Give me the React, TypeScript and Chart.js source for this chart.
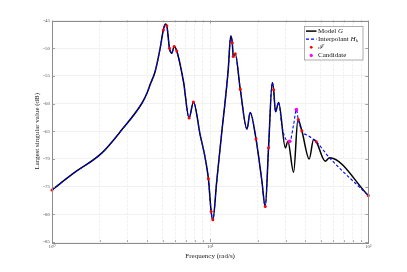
import React, { useEffect, useRef } from "react";
import { Chart, registerables } from "chart.js";

Chart.register(...registerables);

// Model G (black)
const freqG = [1.0, 1.35, 2.07, 2.77, 3.71, 3.99, 4.17, 4.49, 4.83, 5.06, 5.21, 5.32, 5.53, 5.72, 5.92, 6.15, 6.78, 7.36, 7.84, 8.64, 9.3, 9.75, 10.15, 10.4, 11.0, 11.86, 12.4, 13.0, 13.5, 13.8, 14.0, 14.4, 15.5, 17.1, 17.9, 19.5, 21.2, 22.3, 23.4, 24.7, 25.2, 25.9, 27.1, 29.9, 31.0, 33.7, 35.9, 38.0, 42.3, 45.1, 46.9, 53.4, 56.9, 100];
const magG = [-75.6, -72.7, -68.9, -64.7, -59.9, -58.1, -56.6, -54.2, -50.0, -46.7, -45.65, -45.95, -50.0, -50.9, -49.7, -50.5, -56.0, -62.6, -59.7, -65.6, -69.8, -73.6, -79.5, -81.0, -74.1, -65.0, -60.0, -54.0, -47.8, -49.0, -51.5, -51.0, -57.4, -64.6, -61.6, -66.4, -73.8, -78.6, -68.0, -56.2, -57.5, -61.5, -59.8, -68.0, -66.8, -72.4, -62.9, -64.9, -70.0, -66.5, -66.9, -70.4, -69.8, -76.6];

// Interpolant H_k (blue dashed)
const freqH = [1.0, 1.35, 2.07, 2.77, 3.71, 3.99, 4.17, 4.49, 4.83, 5.06, 5.21, 5.32, 5.53, 5.72, 5.92, 6.15, 6.78, 7.36, 7.84, 8.64, 9.3, 9.75, 10.15, 10.4, 11.0, 11.86, 12.4, 13.0, 13.5, 13.8, 14.0, 14.4, 15.5, 17.1, 17.9, 19.5, 21.2, 22.3, 23.4, 24.7, 25.2, 25.9, 27.1, 28.4, 29.9, 31.9, 33.7, 35.1, 36.1, 38.0, 42.3, 46.9, 56.9, 100];
const magH = [-75.6, -72.7, -68.9, -64.7, -59.9, -58.1, -56.6, -54.2, -50.0, -46.7, -45.65, -45.95, -50.0, -50.9, -49.7, -50.5, -56.0, -62.6, -59.7, -65.6, -69.8, -73.6, -79.5, -81.0, -74.1, -65.0, -60.0, -54.0, -47.8, -49.0, -51.5, -51.0, -57.4, -64.6, -61.6, -66.4, -73.8, -78.6, -68.0, -56.2, -57.5, -61.5, -59.8, -64.0, -66.3, -66.8, -63.8, -61.1, -62.9, -64.9, -65.9, -66.9, -69.8, -76.6];

// Support points I (red)
const freqI = [1.0, 5.06, 5.32, 5.53, 5.92, 6.15, 7.36, 7.84, 9.75, 10.15, 10.4, 13.8, 14.0, 14.4, 15.5, 19.5, 22.3, 23.4, 25.2, 31.4, 36.1, 38.0, 46.9, 100];
const magI = [-75.6, -46.7, -45.95, -50.0, -49.7, -50.5, -62.6, -59.7, -73.6, -79.5, -81.0, -49.0, -51.5, -51.0, -57.4, -66.4, -78.6, -68.0, -57.5, -66.9, -62.9, -64.9, -66.9, -76.6];

// Candidate points (magenta)
const freqC = [31.9, 35.1];
const magC = [-66.8, -61.1];

const xTickValues = [1, 2, 3, 4, 5, 6, 7, 8, 9, 10, 20, 30, 40, 50, 60, 70, 80, 90, 100];
const xMajorTicks = [1, 10, 100];
const xTickLabels: Record<number, string> = { 1: "10\u2070", 10: "10\u00b9", 100: "10\u00b2" };
const yMin = -85;
const yMax = -45;
const yStep = 5;

const SERIF = '"Liberation Serif", "DejaVu Serif", serif';

const boxPlugin = {
  id: "boxAndLegend",
  afterDraw(chart: any) {
    const { ctx, chartArea, scales } = chart;
    const { left, right, top, bottom } = chartArea;
    ctx.save();
    // ticks
    ctx.strokeStyle = "#8c8c8c";
    ctx.lineWidth = 0.8;
    ctx.beginPath();
    for (let v = yMin; v <= yMax; v += yStep) {
      const py = Math.round(scales.y.getPixelForValue(v)) + 0.5;
      ctx.moveTo(left, py); ctx.lineTo(left + 3, py);
      ctx.moveTo(right, py); ctx.lineTo(right - 3, py);
    }
    xTickValues.forEach((v) => {
      const px = Math.round(scales.x.getPixelForValue(v)) + 0.5;
      const len = xMajorTicks.includes(v) ? 3 : 1.8;
      ctx.moveTo(px, bottom); ctx.lineTo(px, bottom - len);
      ctx.moveTo(px, top); ctx.lineTo(px, top + len);
    });
    ctx.stroke();
    // box
    ctx.lineWidth = 1;
    ctx.strokeStyle = "#8c8c8c";
    ctx.strokeRect(Math.round(left) + 0.5, Math.round(top) + 0.5, Math.round(right - left), Math.round(bottom - top));

    // legend
    const bw = 58.5, bh = 33.5;
    const bx = Math.round(right - 5.5 - bw) + 0.5;
    const by = Math.round(top + 5) + 0.5;
    ctx.fillStyle = "#ffffff";
    ctx.fillRect(bx, by, bw, bh);
    ctx.strokeStyle = "#9a9a9a";
    ctx.lineWidth = 0.8;
    ctx.strokeRect(bx, by, bw, bh);
    const rowY = (i: number) => by + 4.6 + i * 8.1;
    const sx0 = bx + 1.5, sx1 = bx + 12, tx = bx + 13.5;
    // row 0 black line
    ctx.strokeStyle = "#000";
    ctx.lineWidth = 1.5;
    ctx.beginPath(); ctx.moveTo(sx0, rowY(0)); ctx.lineTo(sx1, rowY(0)); ctx.stroke();
    // row 1 blue dashed
    ctx.strokeStyle = "#0000ff";
    ctx.lineWidth = 1.2;
    ctx.setLineDash([3, 2]);
    ctx.beginPath(); ctx.moveTo(sx0, rowY(1)); ctx.lineTo(sx1, rowY(1)); ctx.stroke();
    ctx.setLineDash([]);
    // row 2 red dot
    const cx = (sx0 + sx1) / 2;
    ctx.fillStyle = "#ff0000";
    ctx.beginPath(); ctx.arc(cx, rowY(2), 1.4, 0, Math.PI * 2); ctx.fill();
    // row 3 magenta dot
    ctx.fillStyle = "#ff00ff";
    ctx.beginPath(); ctx.arc(cx, rowY(3), 1.6, 0, Math.PI * 2); ctx.fill();

    ctx.fillStyle = "#111";
    ctx.textBaseline = "middle";
    ctx.textAlign = "left";
    const f = `7px ${SERIF}`;
    const fi = `italic 7px ${SERIF}`;
    const put = (txt: string, font: string, x: number, y: number) => {
      ctx.font = font; ctx.fillText(txt, x, y); return x + ctx.measureText(txt).width;
    };
    let x = put("Model ", f, tx, rowY(0));
    put("G", fi, x, rowY(0));
    x = put("Interpolant ", f, tx, rowY(1));
    x = put("H", fi, x, rowY(1));
    put("k", `italic 5px ${SERIF}`, x + 0.3, rowY(1) + 1.8);
    put("\u2110", fi, tx, rowY(2));
    put("Candidate", f, tx, rowY(3));
    ctx.restore();
  },
};

export default function App() {
  const ref = useRef<HTMLCanvasElement | null>(null);
  useEffect(() => {
    if (!ref.current) return;
    const toXY = (xs: number[], ys: number[]) => xs.map((v, i) => ({ x: v, y: ys[i] }));
    const chart = new Chart(ref.current, {
      type: "line",
      data: {
        datasets: [
          {
            label: "Model G",
            data: toXY(freqG, magG),
            borderColor: "#000000",
            borderWidth: 1.5,
            pointRadius: 0,
            cubicInterpolationMode: "monotone",
            order: 4,
          },
          {
            label: "Interpolant H_k",
            data: toXY(freqH, magH),
            borderColor: "#0000ff",
            borderWidth: 1.1,
            borderDash: [3, 2],
            pointRadius: 0,
            cubicInterpolationMode: "monotone",
            order: 3,
          },
          {
            label: "I",
            data: toXY(freqI, magI),
            showLine: false,
            pointRadius: 1.5,
            pointBorderWidth: 0,
            pointBackgroundColor: "#ff0000",
            borderColor: "#ff0000",
            clip: false,
            order: 2,
          } as any,
          {
            label: "Candidate",
            data: toXY(freqC, magC),
            showLine: false,
            pointRadius: 1.8,
            pointBorderWidth: 0,
            pointBackgroundColor: "#ff00ff",
            borderColor: "#ff00ff",
            clip: false,
            order: 1,
          } as any,
        ],
      },
      options: {
        responsive: false,
        animation: false,
        devicePixelRatio: 1,
        layout: { padding: { left: 0, top: 20.5, right: 38.7, bottom: 0 } },
        plugins: { legend: { display: false }, tooltip: { enabled: false } },
        scales: {
          x: {
            type: "logarithmic",
            min: 1,
            max: 100,
            afterBuildTicks: (s: any) => {
              s.ticks = xTickValues.map((v) => ({ value: v, major: false }));
            },
            afterFit: (s: any) => {
              s.height = 30;
            },
            ticks: {
              autoSkip: false,
              maxRotation: 0,
              minRotation: 0,
              padding: 2,
              color: "#555",
              font: { family: SERIF, size: 5 },
              callback: (v: any) => xTickLabels[Number(v)] ?? "",
            },
            grid: { color: "#e2e2e2", lineWidth: 0.6, drawTicks: false },
            border: { display: false, dash: [2, 2] },
            title: {
              display: true,
              text: "Frequency (rad/s)",
              color: "#222",
              font: { family: SERIF, size: 7 },
              padding: { top: 0, bottom: 11.8 },
            },
          },
          y: {
            type: "linear",
            min: yMin,
            max: yMax,
            afterFit: (s: any) => {
              s.width = 52;
            },
            ticks: {
              stepSize: yStep,
              padding: 2,
              color: "#555",
              font: { family: SERIF, size: 5 },
            },
            grid: { color: "#ebebeb", lineWidth: 0.7, drawTicks: false },
            border: { display: false },
            title: {
              display: true,
              text: "Largest singular value (dB)",
              color: "#222",
              font: { family: SERIF, size: 7 },
              padding: { top: 32.8, bottom: 0 },
            },
          },
        },
      } as any,
      plugins: [boxPlugin],
    });
    return () => chart.destroy();
  }, []);
  return (
    <div style={{ position: "fixed", left: 0, top: 0, width: 407, height: 272, background: "#fff" }}>
      <canvas ref={ref} width={407} height={272} style={{ display: "block", width: 407, height: 272 }} />
    </div>
  );
}
